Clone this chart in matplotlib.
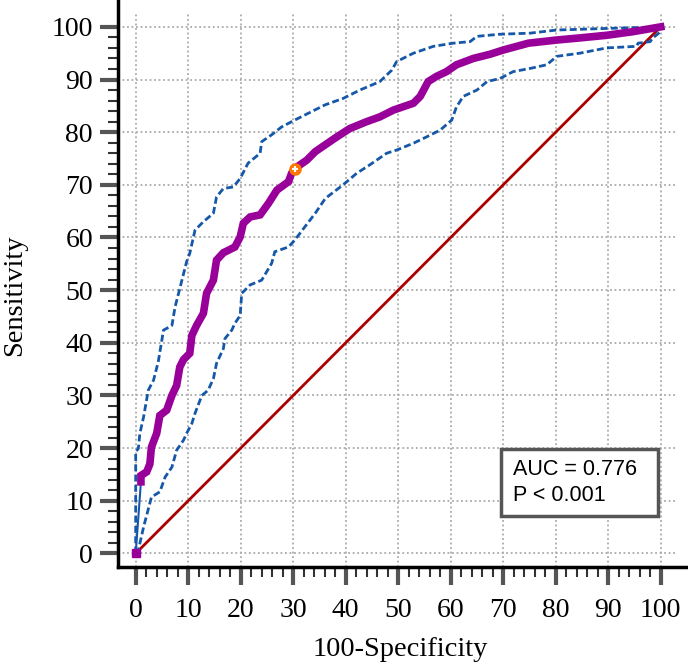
import matplotlib.pyplot as plt
from matplotlib.patches import Rectangle

# ROC curve (100-Specificity, Sensitivity)
roc_x = [0, 1.0, 1.0, 2.1, 2.7, 3.0, 4.0, 4.6, 5.9, 6.9, 7.8, 8.4, 9.1, 10.3, 10.7, 11.6,
         12.9, 13.5, 14.8, 15.4, 16.7, 18.9, 19.9, 20.5, 21.8, 23.7, 25.3, 26.9, 29.1,
         29.7, 30.3, 32.6, 34.2, 36.1, 38.3, 40.8, 44.0, 46.5, 49.1, 52.9, 54.2, 55.7,
         57.3, 59.2, 61.1, 64.3, 67.5, 70.0, 74.8, 80.2, 84.6, 89.7, 94.8, 100]
roc_y = [0, 13.6, 14.8, 15.5, 17.0, 20.2, 22.8, 26.2, 27.2, 30.0, 31.9, 35.4, 36.8, 38.0,
         41.4, 43.3, 45.6, 49.4, 51.9, 55.7, 57.1, 58.2, 60.1, 62.7, 63.9, 64.3, 66.5,
         69.0, 70.6, 72.2, 73.1, 74.7, 76.3, 77.6, 79.1, 80.7, 82.0, 82.9, 84.2, 85.5,
         86.8, 89.6, 90.6, 91.5, 92.8, 94.0, 94.8, 95.6, 96.9, 97.5, 97.9, 98.4, 99.1, 100]

# upper 95% confidence bound
up_x = [0, 0, 0.5, 0.8, 1.5, 2.4, 3.4, 4.3, 5.3, 6.9, 7.5, 8.4, 9.7, 10.3, 11.3, 12.9,
        14.8, 15.4, 16.7, 18.6, 19.9, 21.4, 23.7, 24.0, 25.9, 27.8, 30.3, 33.5, 36.1,
        39.5, 42.7, 46.5, 48.8, 49.7, 52.9, 56.7, 60.5, 63.7, 65.0, 69.4, 75.1, 80.2,
        89.7, 100]
up_y = [0, 19.3, 19.9, 22.8, 25.9, 31.0, 32.9, 36.4, 42.4, 43.3, 46.8, 50.3, 55.4, 57.0,
        61.4, 63.0, 64.6, 67.7, 69.3, 69.6, 71.2, 74.1, 76.0, 78.2, 79.5, 81.0, 82.3,
        83.9, 85.2, 86.4, 88.0, 89.6, 91.8, 93.4, 95.0, 96.3, 96.9, 97.2, 98.2, 98.6,
        98.8, 99.4, 99.7, 100]

# lower 95% confidence bound
lo_x = [0, 0.5, 1.5, 3.0, 4.6, 5.6, 6.9, 7.8, 9.1, 9.7, 10.7, 11.3, 12.6, 13.8, 14.8,
        15.4, 16.7, 17.0, 18.3, 18.9, 19.9, 20.2, 21.8, 24.0, 25.9, 26.5, 29.1, 30.3,
        32.2, 34.2, 36.1, 39.5, 42.1, 44.6, 47.8, 49.7, 52.9, 55.4, 58.0, 60.2, 61.1,
        62.4, 65.0, 66.9, 69.4, 71.9, 75.1, 78.3, 80.2, 84.6, 89.7, 95.4, 95.7, 98.0,
        98.5, 100, 100]
lo_y = [0, 0.6, 5.0, 10.7, 11.7, 14.5, 16.4, 19.6, 21.5, 22.8, 24.7, 26.6, 30.0, 31.0,
        33.2, 36.1, 38.9, 40.8, 42.4, 43.7, 45.2, 49.4, 51.0, 51.9, 55.1, 57.3, 58.2,
        59.5, 62.0, 64.6, 67.4, 70.0, 72.2, 73.8, 76.0, 76.6, 77.9, 79.1, 80.4, 82.3,
        84.8, 86.8, 88.0, 89.6, 90.2, 91.5, 92.1, 92.8, 94.4, 95.0, 96.0, 96.3, 96.9,
        97.2, 97.9, 99.1, 100]

cutoff_x = [30.3]
cutoff_y = [73.1]

ticks = list(range(0, 101, 10))
minor_ticks = list(range(0, 101, 2))
auc_text = ["AUC = 0.776", "P < 0.001"]

fig = plt.figure(figsize=(6.88, 6.68), dpi=100)
ax = fig.add_axes([0.1715, 0.1505, 0.8285, 0.8495])
ax.set_xlim(-3.37, 105.2)
ax.set_ylim(-2.66, 105.1)

# dotted grid, limited like the original
gcol = '#aaaaaa'
ax.hlines(ticks, -3.37, 103.1, colors=gcol, linestyles=(0, (1, 1.5)), lw=1.3, zorder=1)
ax.vlines(ticks, -2.66, 102.9, colors=gcol, linestyles=(0, (1, 1.5)), lw=1.3, zorder=1)

blue = '#1557a8'
ax.plot([0, 100], [0, 100], color='#aa0000', lw=2, zorder=2)
ax.plot(up_x, up_y, color=blue, lw=2, ls=(0, (2.5, 1.2)), zorder=3)
ax.plot(lo_x, lo_y, color=blue, lw=2, ls=(0, (2.5, 1.2)), zorder=3)
ax.plot([roc_x[0], roc_x[1]], [roc_y[0], roc_y[1]], color=blue, lw=1.5, zorder=3)
ax.plot(roc_x[1:], roc_y[1:], color='#990099', lw=5.5, solid_joinstyle='miter', zorder=4)
ax.plot(roc_x[:1], roc_y[:1], marker='s', ms=6, color='#990099', zorder=4)
ax.plot(cutoff_x, cutoff_y, marker='o', ms=8, color='#ff7700', mec='#ff7700', zorder=5)
ax.plot(cutoff_x, cutoff_y, marker='+', ms=5, mew=1.5, color='white', zorder=6)

# AUC box
ax.add_patch(Rectangle((69.5, 7.2), 29.9, 12.6, facecolor='white', edgecolor='#555555',
                       lw=2.5, zorder=7))
ax.text(71.8, 16.0, auc_text[0], fontsize=15.5, family='Liberation Sans', va='center', zorder=8)
ax.text(71.8, 11.0, auc_text[1], fontsize=15.5, family='Liberation Sans', va='center', zorder=8)

for s in ['top', 'right']:
    ax.spines[s].set_visible(False)
for s in ['left', 'bottom']:
    ax.spines[s].set_linewidth(2.5)

ax.set_xticks(ticks)
ax.set_yticks(ticks)
ax.set_xticks(minor_ticks, minor=True)
ax.set_yticks(minor_ticks, minor=True)
ax.tick_params(which='major', length=13, width=3, color='#555555', direction='out')
ax.tick_params(which='minor', length=7, width=1.5, color='#333333', direction='out')
ax.tick_params(axis='x', which='major', pad=9)
ax.tick_params(axis='y', which='major', pad=5)
for lab in ax.get_xticklabels() + ax.get_yticklabels():
    lab.set_family('Liberation Serif')
    lab.set_fontsize(20)

fig.text(400 / 688, 1 - 650 / 668, '100-Specificity', fontsize=20.5, family='Liberation Serif',
         ha='center', va='center')
fig.text(15 / 688, 1 - 295 / 668, 'Sensitivity', fontsize=20.5, family='Liberation Serif',
         ha='center', va='center', rotation=90)

fig.savefig('out.png', dpi=100)
